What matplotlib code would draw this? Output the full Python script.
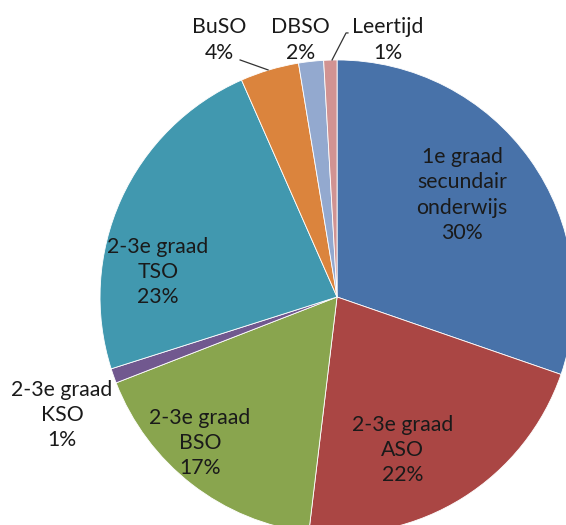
import matplotlib
matplotlib.use('Agg')
import matplotlib.pyplot as plt

# slice data (clockwise from 12 o'clock)
names = ['1e graad\nsecundair\nonderwijs', '2-3e graad\nASO', '2-3e graad\nBSO',
         '2-3e graad\nKSO', '2-3e graad\nTSO', 'BuSO', 'DBSO', 'Leertijd']
shares = [30.3, 21.6, 17.2, 1.0, 23.3, 4.0, 1.7, 0.9]
colors = ['#4872A9', '#AA4644', '#89A54E', '#71588F', '#4198AF', '#DB843D', '#93A9CF', '#D19392']

# label anchor points (data units, pie radius = 1)
label_pos = [(0.527, 0.43), (0.278, -0.646), (-0.578, -0.616), (-1.16, -0.498),
             (-0.755, 0.105), (-0.498, 1.084), (-0.156, 1.084), (0.215, 1.084)]

plt.rcParams['font.family'] = ['Lato', 'DejaVu Sans']

fig = plt.figure(figsize=(5.66, 5.25), dpi=100)
ax = fig.add_axes([0, 0, 1, 1])
ax.pie(shares, colors=colors, startangle=90, counterclock=False, radius=1,
       wedgeprops=dict(edgecolor='white', linewidth=0.6))
ax.set_aspect('auto')
ax.set_xlim(-1.422, 0.966)
ax.set_ylim(-0.962, 1.253)
ax.axis('off')

for name, val, (x, y) in zip(names, shares, label_pos):
    ax.text(x, y, f'{name}\n{val:.0f}%', ha='center', va='center',
            fontsize=15.3, linespacing=1.33, color='#1a1a1a')

# leader lines for small slices
ax.plot([-0.409, -0.291], [1.0, 0.958], color='#333333', lw=0.9)
ax.plot([0.046, 0.038, -0.021], [1.114, 1.114, 1.0], color='#333333', lw=0.9)

fig.savefig('out.png', dpi=100)
